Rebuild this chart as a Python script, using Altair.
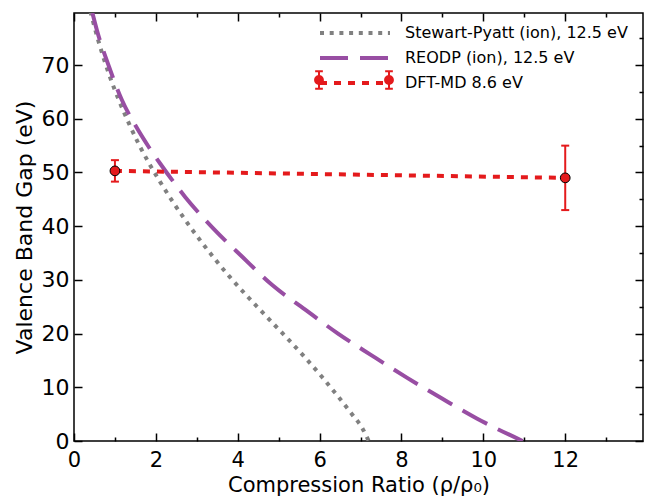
import altair as alt
import pandas as pd

# ---- data ----
sp_x = [0.40, 0.60, 0.85, 1.10, 1.35, 1.60, 1.85, 2.10, 2.40, 2.75, 3.10, 3.45, 3.80,
        4.30, 4.75, 5.20, 5.65, 6.05, 6.45, 6.80, 7.05, 7.20]
sp_y = [80.0, 74.4, 68.4, 63.4, 59.0, 55.0, 51.5, 48.3, 44.7, 40.8, 37.2, 33.8, 30.6,
        26.4, 22.8, 19.2, 15.5, 12.0, 8.3, 4.9, 2.3, 0.0]

re_x = [0.45, 0.56, 0.86, 1.17, 1.52, 1.83, 2.13, 2.72, 3.40, 4.11, 4.85, 5.64, 6.44,
        7.28, 8.13, 8.98, 9.84, 10.96]
re_y = [79.7, 76.5, 69.6, 63.5, 58.5, 54.7, 51.4, 45.4, 39.6, 34.3, 29.0, 24.5, 20.05,
        15.9, 11.8, 7.95, 4.2, 0.0]

dft_x = [1.0, 12.0]
dft_y = [50.3, 49.0]
dft_err = [2.0, 6.0]

series_names = ["Stewart-Pyatt (ion), 12.5 eV", "REODP (ion), 12.5 eV", "DFT-MD 8.6 eV"]
series_colors = ["#808080", "#984ea3", "#e41a1c"]
series_dashes = [[4, 5.7], [28, 12], [7, 7]]

x_ticks = list(range(0, 14))
y_ticks = list(range(0, 80, 5))

# ---- tables ----
rows = []
for sx, sy, name in [(sp_x, sp_y, series_names[0]), (re_x, re_y, series_names[1]),
                     (dft_x, dft_y, series_names[2])]:
    for i, (a, b) in enumerate(zip(sx, sy)):
        rows.append({"series": name, "x": a, "y": b, "i": i})
lines_df = pd.DataFrame(rows)

dft_df = pd.DataFrame({
    "x": dft_x,
    "y": dft_y,
    "lo": [v - e for v, e in zip(dft_y, dft_err)],
    "hi": [v + e for v, e in zip(dft_y, dft_err)],
    "lg": [series_names[2]] * len(dft_x),
})

FONT = "DejaVu Sans"
RED = "#e41a1c"
x_scale = alt.Scale(domain=[0, 13.9], nice=False, zero=False)
y_scale = alt.Scale(domain=[0, 79.7], nice=False, zero=False)

minor_dash_x = {"condition": {"test": "datum.value % 2 !== 0", "value": [0, 4, 4, 30]},
                "value": [10, 0]}
minor_dash_y = {"condition": {"test": "datum.value % 10 !== 0", "value": [0, 4, 4, 30]},
                "value": [10, 0]}

common_axis = dict(domain=False, grid=False, tickSize=8, offset=-8, tickColor="black",
                   tickWidth=1.5, labelFont=FONT, titleFont=FONT, labelColor="black",
                   titleColor="black", labelFlush=False, labelOverlap=False)

x_axis_bottom = alt.Axis(orient="bottom", values=x_ticks, tickDash=minor_dash_x,
                         labelExpr="datum.value % 2 === 0 ? datum.label : ''",
                         labelFontSize=21, labelPadding=8, title="Compression Ratio (ρ/ρ₀)",
                         titleFontSize=21, titleFontWeight="normal", titlePadding=4,
                         **common_axis)
y_axis_left = alt.Axis(orient="left", values=y_ticks, tickDash=minor_dash_y,
                       labelExpr="datum.value % 10 === 0 ? datum.label : ''",
                       labelFontSize=22, labelPadding=5, title="Valence Band Gap (eV)",
                       titleFontSize=22, titleFontWeight="normal", titlePadding=5,
                       **common_axis)
x_axis_top = alt.Axis(orient="top", values=x_ticks, tickDash=minor_dash_x, labels=False,
                      title=None, **common_axis)
y_axis_right = alt.Axis(orient="right", values=y_ticks, tickDash=minor_dash_y, labels=False,
                        title=None, **common_axis)

LEG_X, LEG_Y, ROW_PAD = 244, 11, 8
legend_common = dict(title=None, orient="none", legendX=LEG_X, symbolSize=196,
                     symbolOffset=28, labelOffset=41, labelFontSize=16, labelFont=FONT,
                     labelColor="black", rowPadding=ROW_PAD, labelLimit=400,
                     symbolOpacity=1)

legend = alt.Legend(legendY=LEG_Y, symbolType="M-5,0H5", symbolStrokeWidth=4,
                    symbolFillColor="transparent", **legend_common)

bars_path = ("M-5,-1.25V1.25M-5.55,-1.25H-4.45M-5.55,1.25H-4.45"
             "M5,-1.25V1.25M4.45,-1.25H5.55M4.45,1.25H5.55")
dots_path = ("M-4.3,0A0.7,0.7,0,1,1,-5.7,0A0.7,0.7,0,1,1,-4.3,0Z"
             "M5.7,0A0.7,0.7,0,1,1,4.3,0A0.7,0.7,0,1,1,5.7,0Z")
over_y = 59

legend_bars = alt.Legend(legendY=over_y, labelExpr="''", symbolStrokeColor=RED,
                         symbolStrokeWidth=2, symbolFillColor="transparent", **legend_common)
legend_dots = alt.Legend(legendY=over_y, labelExpr="''", symbolStrokeColor="black",
                         symbolStrokeWidth=1, symbolFillColor=RED, **legend_common)

lines = alt.Chart(lines_df).mark_line(clip=True, strokeWidth=4, interpolate="monotone").encode(
    x=alt.X("x:Q", scale=x_scale, axis=x_axis_bottom),
    y=alt.Y("y:Q", scale=y_scale, axis=y_axis_left),
    color=alt.Color("series:N", scale=alt.Scale(domain=series_names, range=series_colors),
                    legend=legend),
    strokeDash=alt.StrokeDash("series:N", scale=alt.Scale(domain=series_names, range=series_dashes),
                              legend=legend),
    detail="series:N",
    order="i:Q",
)

err = alt.Chart(dft_df).mark_rule(color=RED, strokeWidth=2).encode(
    x="x:Q", y="lo:Q", y2="hi:Q")
caps_lo = alt.Chart(dft_df).mark_point(shape="M-1,0H1", size=64, filled=False,
                                       color=RED, strokeWidth=2, opacity=1).encode(
    x="x:Q", y="lo:Q")
caps_hi = alt.Chart(dft_df).mark_point(shape="M-1,0H1", size=64, filled=False,
                                       color=RED, strokeWidth=2, opacity=1).encode(
    x="x:Q", y="hi:Q")
pts = alt.Chart(dft_df).mark_point(shape="circle", size=95, filled=True, fill=RED,
                                   stroke="black", strokeWidth=1, opacity=1).encode(
    x="x:Q", y="y:Q")

# invisible layers that only carry the legend glyphs of the DFT-MD entry
leg_bars_layer = alt.Chart(dft_df).mark_point(filled=False, color=RED, opacity=0).encode(
    x="x:Q", y="y:Q",
    shape=alt.Shape("lg:N", scale=alt.Scale(domain=[series_names[2]], range=[bars_path]),
                    legend=legend_bars),
)
leg_dots_layer = alt.Chart(dft_df.rename(columns={"lg": "lg2"})).mark_point(
    filled=True, fill=RED, stroke="black", strokeWidth=1, opacity=0).encode(
    x="x:Q", y="y:Q",
    shape=alt.Shape("lg2:N", scale=alt.Scale(domain=[series_names[2]], range=[dots_path]),
                    legend=legend_dots),
)

main = alt.layer(lines, err, caps_lo, caps_hi, pts, leg_bars_layer, leg_dots_layer).resolve_scale(
    shape="independent")

frame = alt.Chart(dft_df).mark_point(opacity=0).encode(
    x=alt.X("x:Q", scale=x_scale, axis=x_axis_top),
    y=alt.Y("y:Q", scale=y_scale, axis=y_axis_right),
)

chart = alt.layer(main, frame).resolve_axis(x="independent", y="independent").properties(
    width=569, height=428,
    autosize=alt.AutoSizeParams(type="none"),
    padding={"left": 66, "top": 5, "right": 1, "bottom": 55},
    background="white",
).configure_view(stroke="black", strokeWidth=1.5)

chart.save("out.html", embed_options={"renderer": "svg", "actions": False})
